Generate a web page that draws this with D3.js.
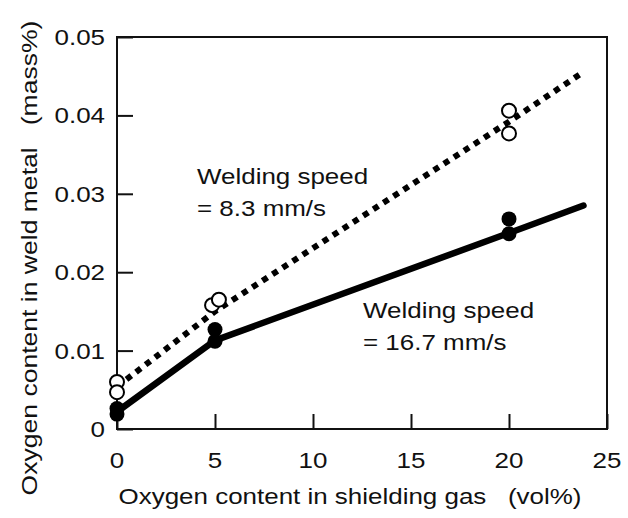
<!DOCTYPE html>
<html>
<head>
<meta charset="utf-8">
<script src="https://cdn.jsdelivr.net/npm/d3@7"></script>
<style>
  body { margin: 0; background: #fff; }
  text { font-family: "Liberation Sans", Arial, sans-serif; fill: #111; white-space: pre; }
</style>
</head>
<body>
<svg id="chart" width="628" height="518"></svg>
<script>
// measured points (oxygen in gas vol%, oxygen in weld metal mass%)
const slowX = [0, 0, 4.85, 5.2, 20, 20];
const slowY = [0.0060, 0.0047, 0.0158, 0.0165, 0.0406, 0.0377];
const fastX = [0, 0, 5, 5, 20, 20];
const fastY = [0.0026, 0.0019, 0.0127, 0.0112, 0.0268, 0.0249];

// fitted lines
const slowLineX = [0, 5, 20, 23.6];
const slowLineY = [0.0054, 0.0150, 0.0392, 0.0452];
const fastLineX = [0, 5, 20, 23.8];
const fastLineY = [0.0022, 0.0113, 0.0250, 0.0285];

const xTicks = [0, 5, 10, 15, 20, 25];
const yTicks = [0, 0.01, 0.02, 0.03, 0.04, 0.05];
const yTickLabels = ["0", "0.01", "0.02", "0.03", "0.04", "0.05"];

const svg = d3.select("#chart");
const mLeft = 117, mRight = 607, mTop = 37, mBottom = 429;
const sx = 1.18; // the original lettering is a bit wide

const x = d3.scaleLinear().domain([0, 25]).range([mLeft, mRight]);
const y = d3.scaleLinear().domain([0, 0.05]).range([mBottom, mTop]);

// frame
svg.append("rect")
    .attr("x", mLeft).attr("y", mTop)
    .attr("width", mRight - mLeft).attr("height", mBottom - mTop)
    .attr("fill", "none").attr("stroke", "#111").attr("stroke-width", 2);

// inward ticks
const xAxis = d3.axisBottom(x).tickValues(xTicks).tickSize(-15).tickFormat("");
const gx = svg.append("g").attr("transform", `translate(0,${mBottom})`).call(xAxis);
const yAxis = d3.axisLeft(y).tickValues(yTicks).tickSize(-16).tickFormat("");
const gy = svg.append("g").attr("transform", `translate(${mLeft},0)`).call(yAxis);
[gx, gy].forEach(g => {
  g.select(".domain").remove();
  g.selectAll(".tick line").attr("stroke", "#111").attr("stroke-width", 2);
});

// tick labels
function label(txt, px, py, anchor, size) {
  return svg.append("text")
      .attr("transform", `translate(${px},${py}) scale(${sx},1)`)
      .attr("text-anchor", anchor)
      .style("font-size", size + "px")
      .text(txt);
}
xTicks.forEach(v => label(String(v), x(v), 468, "middle", 22));
yTicks.forEach((v, i) => label(yTickLabels[i], 105, y(v) + 8, "end", 22));

// axis titles
label("Oxygen content in shielding gas   (vol%)", 350, 504, "middle", 22);
svg.append("text")
    .attr("transform", `translate(37,258) rotate(-90) scale(${sx},1)`)
    .attr("text-anchor", "middle")
    .style("font-size", "22.5px")
    .text("Oxygen content in weld metal   (mass%)");

// lines
const line = d3.line().x(d => x(d[0])).y(d => y(d[1]));
svg.append("path")
    .datum(d3.zip(slowLineX, slowLineY))
    .attr("d", line)
    .attr("fill", "none").attr("stroke", "#000")
    .attr("stroke-width", 6).attr("stroke-dasharray", "6,6");
svg.append("path")
    .datum(d3.zip(fastLineX, fastLineY))
    .attr("d", line)
    .attr("fill", "none").attr("stroke", "#000")
    .attr("stroke-width", 6.5).attr("stroke-linecap", "round");

// points
svg.append("g").selectAll("circle")
    .data(d3.zip(fastX, fastY)).join("circle")
    .attr("cx", d => x(d[0])).attr("cy", d => y(d[1])).attr("r", 7.5)
    .attr("fill", "#000");
svg.append("g").selectAll("circle")
    .data(d3.zip(slowX, slowY)).join("circle")
    .attr("cx", d => x(d[0])).attr("cy", d => y(d[1])).attr("r", 7)
    .attr("fill", "#fff").attr("stroke", "#000").attr("stroke-width", 2);

// annotations
label("Welding speed", 197, 184, "start", 22);
label("= 8.3 mm/s", 197, 216, "start", 22);
label("Welding speed", 363, 318, "start", 22);
label("= 16.7 mm/s", 363, 350, "start", 22);
</script>
</body>
</html>
